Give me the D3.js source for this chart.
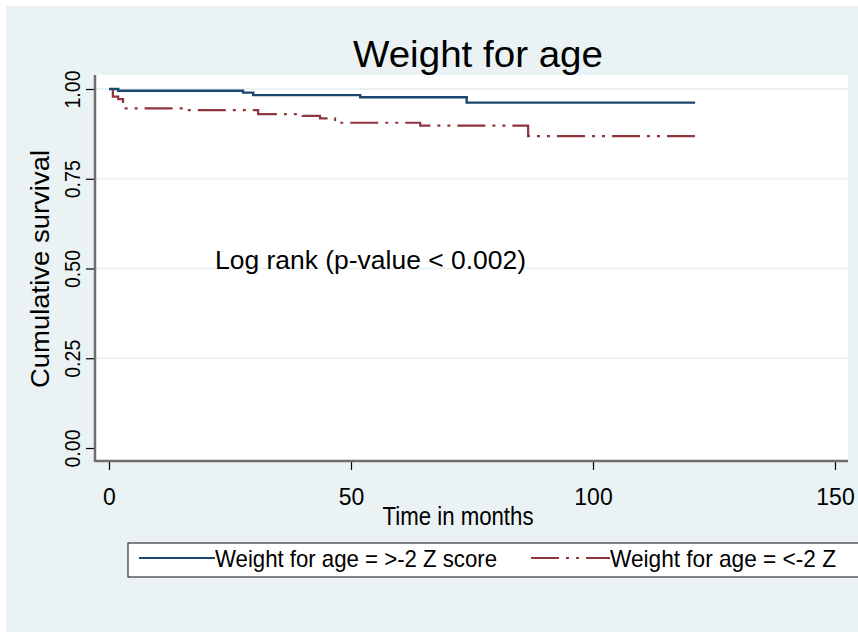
<!DOCTYPE html>
<html>
<head>
<meta charset="utf-8">
<script src="https://cdn.jsdelivr.net/npm/d3@7"></script>
<style>
    body { margin: 0; background: #ffffff; }
    text { font-family: 'Liberation Sans', Arial, sans-serif; fill: #000000; }
</style>
</head>
<body>
<svg id="chart" width="858" height="632"></svg>
<script>
'use strict';

// Kaplan-Meier estimates (months, survival)
var timeAbove = [0, 1.9, 27.7, 29.8, 51.9, 73.9, 121.1];
var survAbove = [1, 0.995, 0.990, 0.983, 0.977, 0.962, 0.962];

var timeBelow = [0, 0.8, 1.9, 2.9, 15, 30.8, 40, 43.6, 46.7, 64.3, 86.6, 122.1];
var survBelow = [1, 0.979, 0.972, 0.946, 0.941, 0.930, 0.925, 0.918, 0.906, 0.898, 0.869, 0.869];

var xTicks = [0, 50, 100, 150];
var yTicks = [0, 0.25, 0.5, 0.75, 1];
var yGrid = [0.25, 0.5, 0.75, 1];

var seriesNames = ['Weight for age = >-2 Z score', 'Weight for age = <-2 Z'];

var palette = {
    bg: '#eaf2f3',
    above: '#1a476f',
    below: '#90353b',
    axis: '#6e6e6e'
};

var svg = d3.select('#chart');

var plot = { left: 95, top: 75, right: 848, bottom: 461 };

var x = d3.scaleLinear().domain([0, 150]).range([109, 835]);
var y = d3.scaleLinear().domain([0, 1]).range([448, 89]);

// outer background
svg.append('rect')
    .attr('x', 6).attr('y', 6)
    .attr('width', 852).attr('height', 626)
    .attr('fill', palette.bg);

svg.append('rect')
    .attr('x', plot.left).attr('y', plot.top)
    .attr('width', plot.right - plot.left)
    .attr('height', plot.bottom - plot.top)
    .attr('fill', '#ffffff');

// grid
svg.append('g').selectAll('line')
    .data(yGrid)
    .enter().append('line')
    .attr('x1', plot.left).attr('x2', plot.right)
    .attr('y1', function(d) { return y(d); })
    .attr('y2', function(d) { return y(d); })
    .attr('stroke', palette.bg)
    .attr('stroke-width', 2);

// y axis
var yAxis = d3.axisLeft(y)
    .tickValues(yTicks)
    .tickSize(9)
    .tickFormat(d3.format('.2f'));

var gy = svg.append('g')
    .attr('transform', 'translate(' + plot.left + ',0)')
    .call(yAxis);
gy.select('.domain').remove();
gy.selectAll('.tick line').attr('stroke', '#000000').attr('stroke-width', 1.2);
gy.selectAll('.tick text')
    .attr('font-size', 22)
    .attr('x', 0).attr('dy', 0)
    .attr('textLength', 38)
    .attr('lengthAdjust', 'spacingAndGlyphs')
    .attr('transform', 'translate(-15,0) rotate(-90)')
    .attr('text-anchor', 'middle');

svg.append('line')
    .attr('x1', plot.left).attr('x2', plot.left)
    .attr('y1', plot.top).attr('y2', plot.bottom + 1)
    .attr('stroke', palette.axis).attr('stroke-width', 2.5);

// x axis
var xAxis = d3.axisBottom(x)
    .tickValues(xTicks)
    .tickSize(9)
    .tickFormat(d3.format('d'));

var gx = svg.append('g')
    .attr('transform', 'translate(0,' + plot.bottom + ')')
    .call(xAxis);
gx.select('.domain').remove();
gx.selectAll('.tick line').attr('stroke', '#000000').attr('stroke-width', 1.2);
gx.selectAll('.tick text')
    .attr('font-size', 23)
    .attr('y', 44).attr('dy', 0);

svg.append('line')
    .attr('x1', plot.left).attr('x2', plot.right)
    .attr('y1', plot.bottom).attr('y2', plot.bottom)
    .attr('stroke', palette.axis).attr('stroke-width', 2.5);

// survival curves
var line = d3.line()
    .x(function(d) { return x(d[0]); })
    .y(function(d) { return y(d[1]); })
    .curve(d3.curveStepAfter);

svg.append('path')
    .datum(d3.zip(timeBelow, survBelow))
    .attr('d', line)
    .attr('fill', 'none')
    .attr('stroke', palette.below)
    .attr('stroke-width', 2.2)
    .attr('stroke-dasharray', '28,7,3,7,3,7');

svg.append('path')
    .datum(d3.zip(timeAbove, survAbove))
    .attr('d', line)
    .attr('fill', 'none')
    .attr('stroke', palette.above)
    .attr('stroke-width', 2.4);

// texts
svg.append('text')
    .attr('x', 478).attr('y', 67)
    .attr('text-anchor', 'middle')
    .attr('font-size', 37)
    .attr('textLength', 250)
    .attr('lengthAdjust', 'spacingAndGlyphs')
    .text('Weight for age');

svg.append('text')
    .attr('transform', 'translate(49,269) rotate(-90)')
    .attr('text-anchor', 'middle')
    .attr('font-size', 26)
    .attr('textLength', 238)
    .attr('lengthAdjust', 'spacingAndGlyphs')
    .text('Cumulative survival');

svg.append('text')
    .attr('x', 458).attr('y', 525)
    .attr('text-anchor', 'middle')
    .attr('font-size', 25)
    .attr('textLength', 151)
    .attr('lengthAdjust', 'spacingAndGlyphs')
    .text('Time in months');

svg.append('text')
    .attr('x', 215).attr('y', 269)
    .attr('font-size', 25)
    .attr('textLength', 311)
    .attr('lengthAdjust', 'spacingAndGlyphs')
    .text('Log rank (p-value < 0.002)');

// legend
var legend = svg.append('g');

legend.append('rect')
    .attr('x', 128).attr('y', 543)
    .attr('width', 740).attr('height', 34)
    .attr('fill', '#ffffff')
    .attr('stroke', '#333333')
    .attr('stroke-width', 1.2);

var legendItems = [
    { name: seriesNames[0], x1: 139, x2: 215, len: 282, color: palette.above, dash: null },
    { name: seriesNames[1], x1: 531, x2: 610, len: 226, color: palette.below, dash: '28,7,3,7,3,7' }
];

legendItems.forEach(function(item) {
    legend.append('line')
        .attr('x1', item.x1).attr('x2', item.x2)
        .attr('y1', 558).attr('y2', 558)
        .attr('stroke', item.color)
        .attr('stroke-width', 2.2)
        .attr('stroke-dasharray', item.dash);
    legend.append('text')
        .attr('x', item.x2).attr('y', 567)
        .attr('font-size', 24)
        .attr('textLength', item.len)
        .attr('lengthAdjust', 'spacingAndGlyphs')
        .text(item.name);
});
</script>
</body>
</html>
